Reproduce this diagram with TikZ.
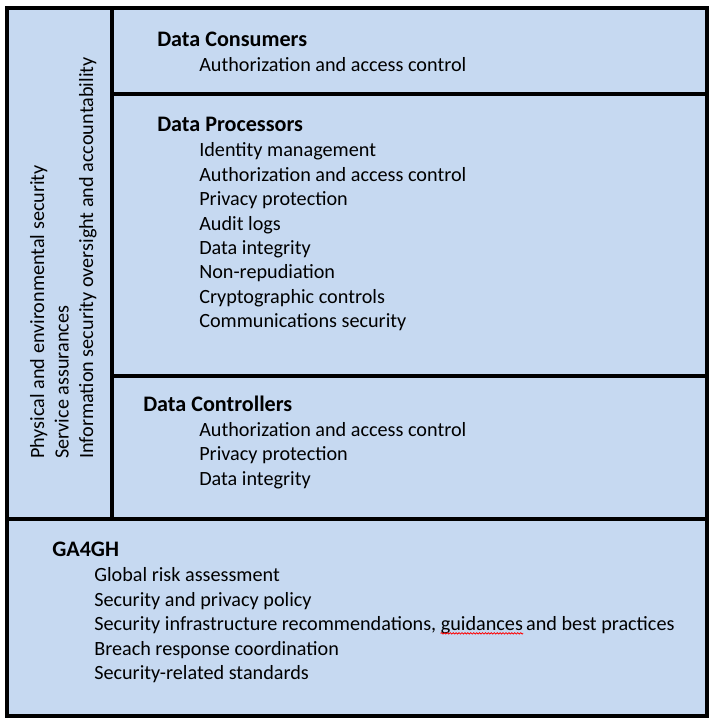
\documentclass[tikz,border=0pt]{standalone}
\usepackage{fontspec}
\setmainfont{Carlito}
\usepackage{xcolor}
\usetikzlibrary{
    decorations.pathmorphing,
    positioning
}
\definecolor{panelblue}{RGB}{198,217,241}
\tikzset{
    panel/.style={line width=3.6pt, draw=black, fill=panelblue},
    divider/.style={line width=3.6pt, draw=black},
    head/.style={anchor=base west, inner sep=0pt, font=\fontsize{16.6}{19}\selectfont\bfseries},
    item/.style={anchor=base west, inner sep=0pt, font=\fontsize{15.15}{18}\selectfont},
    spell/.style={draw=red, line width=0.6pt, decorate, decoration={snake, amplitude=0.5pt, segment length=2.2pt}}
}

\begin{document}
\begin{tikzpicture}[x=0.75pt, y=-0.75pt]
                        \useasboundingbox (0, 0) rectangle (715, 726);
                        \fill[white] (0, 0) rectangle (715, 726);

                        \draw[panel] (7, 8) rectangle (707, 716);
                        \draw[divider]
                        (112, 8) -- (112, 519)
                        (112, 94) -- (707, 94)
                        (112, 376) -- (707, 376)
                        (7, 519) -- (707, 519);

                        % left column, read bottom to top
                        \node[item, rotate=90] (phys) at (44, 459) {Physical and environmental security};
                        \node[item, rotate=90] (serv) at (68.5, 459) {Service assurances};
                        \node[item, rotate=90] (info) at (93, 459) {Information security oversight and accountability};

                        \node[head] (cons) at (157, 46.7) {Data Consumers};
                        \node[item] (cons1) at (199, 71) {Authorization and access control};

                        \node[head] (proc) at (157, 131.7) {Data Processors};
                        \node[item] (proc1) at (199, 156.9) {Identity management};
                        \node[item] (proc2) at (199, 181.3) {Authorization and access control};
                        \node[item] (proc3) at (199, 205.7) {Privacy protection};
                        \node[item] (proc4) at (199, 230.1) {Audit logs};
                        \node[item] (proc5) at (199, 254.5) {Data integrity};
                        \node[item] (proc6) at (199, 278.9) {Non-repudiation};
                        \node[item] (proc7) at (199, 303.3) {Cryptographic controls};
                        \node[item] (proc8) at (199, 327.7) {Communications security};

                        \node[head] (ctrl) at (143, 411.7) {Data Controllers};
                        \node[item] (ctrl1) at (199, 436) {Authorization and access control};
                        \node[item] (ctrl2) at (199, 460.5) {Privacy protection};
                        \node[item] (ctrl3) at (199, 485) {Data integrity};

                        \node[head] (ga) at (52, 556.7) {GA4GH};
                        \node[item] (ga1) at (94, 581.7) {Global risk assessment};
                        \node[item] (ga2) at (94, 606.2) {Security and privacy policy};
                        \node[item] (ga3) at (94, 630.7) {Security infrastructure recommendations,};
                        \node[item] (ga3b) at ([xshift=3pt]ga3.base east) {guidances};
                        \node[item] (ga3c) at ([xshift=2pt]ga3b.base east) {and best practices};
                        \node[item] (ga4) at (94, 655.2) {Breach response coordination};
                        \node[item] (ga5) at (94, 679.7) {Security-related standards};

                        \draw[spell] ([yshift=-2pt]ga3b.base west) -- ([yshift=-2pt]ga3b.base east);
                    \end{tikzpicture}
\end{document}
